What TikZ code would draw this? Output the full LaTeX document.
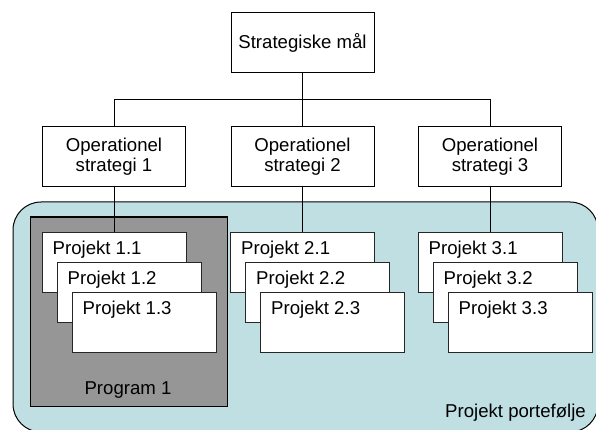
\documentclass[tikz,border=0pt]{standalone}
\usepackage{fontspec}
\setmainfont{Liberation Sans}
\definecolor{portf}{RGB}{191,223,227}
\definecolor{progray}{RGB}{150,150,150}
\begin{document}
\begin{tikzpicture}[x=1pt,y=-1pt,
  font=\fontsize{18.6}{20}\selectfont,
  conn/.style={draw=black, line width=1pt},
  stratbox/.style={draw=black, line width=1pt, fill=white, inner sep=0pt,
    minimum width=143pt, minimum height=60pt, align=center},
  projbox/.style={draw=black!85, line width=1pt, fill=white, inner sep=0pt,
    minimum width=144pt, minimum height=60pt},
  projtext/.style={anchor=west, inner sep=0pt, xshift=11pt, yshift=-18pt}
]
\useasboundingbox (0,0) rectangle (596,430);
\clip (0,0) rectangle (596,430);

% portfolio region
\path[draw=black, line width=1pt, fill=portf, rounded corners=28pt] (13,202) rectangle (598,432);
% program box
\path[draw=black, line width=1pt, fill=progray] (30,217) rectangle (227,406);

\node[stratbox] (top) at (302.5,43) {Strategiske mål};
\node[stratbox] (s1) at (114,157) {Operationel\\strategi 1};
\node[stratbox] (s2) at (302.5,157) {Operationel\\strategi 2};
\node[stratbox] (s3) at (490,157) {Operationel\\strategi 3};

\coordinate (hub) at (302.5,100);
\draw[conn, line width=1.6pt] (top.south) -- (hub);
\draw[conn] (hub) -| (s1.north);
\draw[conn] (hub) -| (s3.north);
\draw[conn] (hub) -- (s2.north);

\node[projbox, label={[projtext]north west:Projekt 1.1}] (p11) at (114,262) {};
\node[projbox, label={[projtext]north west:Projekt 1.2}] (p12) at (129,292) {};
\node[projbox, label={[projtext]north west:Projekt 1.3}] (p13) at (144,322) {};

\node[projbox, label={[projtext]north west:Projekt 2.1}] (p21) at (302.5,262) {};
\node[projbox, label={[projtext]north west:Projekt 2.2}] (p22) at (317.5,292) {};
\node[projbox, label={[projtext]north west:Projekt 2.3}] (p23) at (332.5,322) {};

\node[projbox, label={[projtext]north west:Projekt 3.1}] (p31) at (490,262) {};
\node[projbox, label={[projtext]north west:Projekt 3.2}] (p32) at (505,292) {};
\node[projbox, label={[projtext]north west:Projekt 3.3}] (p33) at (520,322) {};

\draw[conn] (s1.south) -- (p11.north);
\draw[conn] (s2.south) -- (p21.north);
\draw[conn] (s3.south) -- (p31.north);

\node (prog) at (128,390) {Program 1};
\node[anchor=east, inner sep=0pt] (portlabel) at (586,413) {Projekt portefølje};
\end{tikzpicture}
\end{document}
